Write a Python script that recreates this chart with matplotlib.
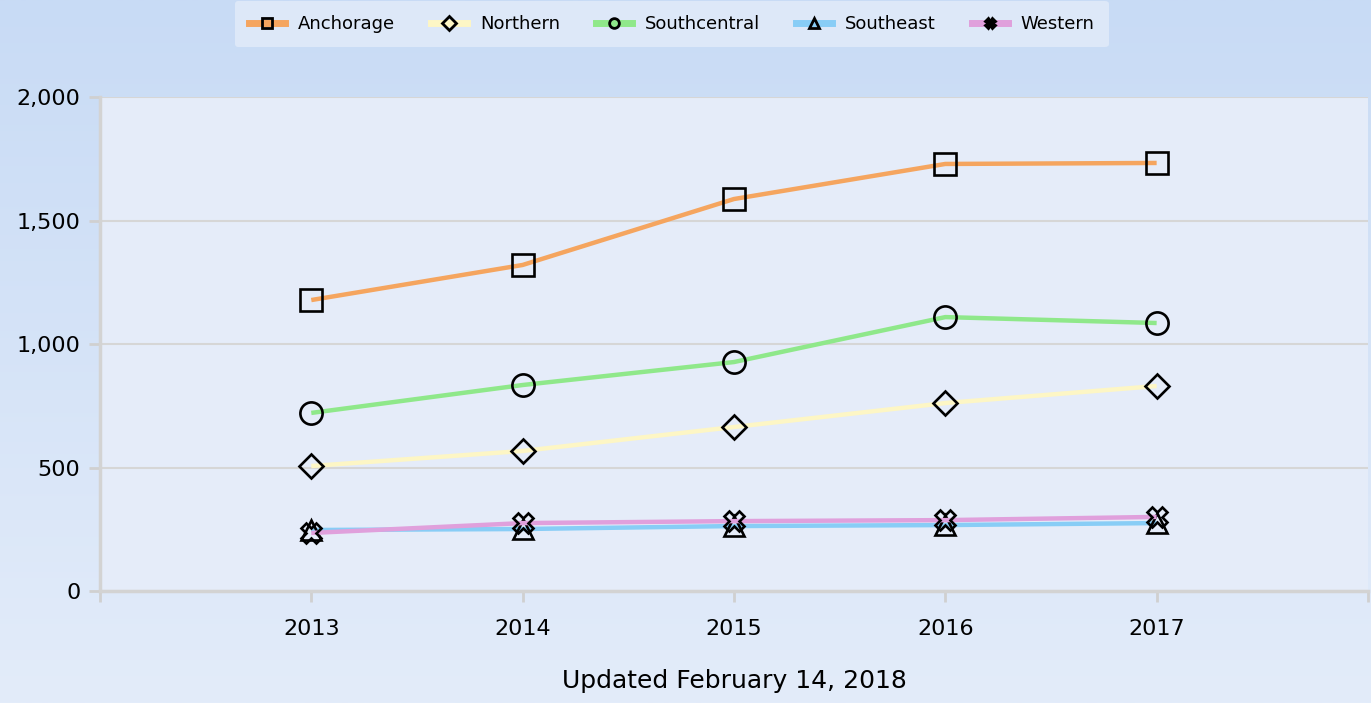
import numpy as np
import matplotlib.pyplot as plt
from matplotlib.lines import Line2D

years = [2013, 2014, 2015, 2016, 2017]
anchorage = [1178, 1320, 1587, 1729, 1733]
northern = [506, 567, 664, 761, 830]
southcentral = [721, 834, 927, 1109, 1085]
southeast = [247, 251, 263, 267, 275]
western = [235, 275, 283, 287, 300]

series = [
    ("Anchorage", anchorage, "#f5a55f", "s", 16),
    ("Northern", northern, "#fdf6c5", "D", 12),
    ("Southcentral", southcentral, "#8fe88a", "o", 16),
    ("Southeast", southeast, "#88cdf6", "^", 15),
    ("Western", western, "#e0a0dc", "X", 14),
]

plt.rcParams['font.family'] = ['DejaVu Sans']

fig = plt.figure(figsize=(13.71, 7.03), dpi=100)

# vertical gradient behind everything
bg = fig.add_axes([0, 0, 1, 1], zorder=-10)
grad = np.linspace(0, 1, 256).reshape(-1, 1)
top = np.array([0xc8, 0xdb, 0xf5]) / 255
bot = np.array([0xe3, 0xec, 0xfa]) / 255
img = top + (bot - top) * grad[:, :, None]
bg.imshow(img, aspect='auto', extent=[0, 1, 0, 1])
bg.axis('off')

ax = fig.add_axes([0.0729, 0.1593, 0.9249, 0.7027])
ax.set_facecolor("#e5ecf9")

for name, vals, col, mk, ms in series:
    ax.plot(years, vals, color=col, lw=3.2, marker=mk, ms=ms, mfc='none',
            mec='black', mew=1.9, label=name, solid_capstyle='butt')

ax.set_xlim(2012, 2018)
ax.set_ylim(0, 2000)
ax.set_xticks(range(2012, 2019))
ax.set_xticklabels([""] + [str(y) for y in years] + [""])
ax.set_yticks([0, 500, 1000, 1500, 2000])
ax.set_yticklabels(["0", "500", "1,000", "1,500", "2,000"])
ax.tick_params(axis='both', colors='#d0d0d0', width=2, length=8,
               labelcolor='black', labelsize=16)
ax.tick_params(axis='x', pad=12)
ax.tick_params(axis='y', pad=6)
ax.grid(axis='y', color='#d6d6d6', lw=1.5)
ax.set_axisbelow(True)
for side in ['top', 'right']:
    ax.spines[side].set_visible(False)
for side in ['left', 'bottom']:
    ax.spines[side].set_color('#d3d3d3')
    ax.spines[side].set_linewidth(2.5)

ax.set_xlabel("Updated February 14, 2018", fontsize=18, labelpad=22)

handles = []
for _, _, col, mk, _ in series:
    face = 'black' if mk == 'X' else 'none'
    handles.append(Line2D([], [], color=col, lw=5, marker=mk, ms=7, mfc=face,
                          mec='black', mew=2))
labels = [s[0] for s in series]
leg = fig.legend(handles, labels, loc='upper center', ncol=5,
                 bbox_to_anchor=(0.49, 1.012), fontsize=13, frameon=True,
                 handlelength=2.0, columnspacing=2.0, borderpad=0.8,
                 handletextpad=0.7)
leg.get_frame().set_facecolor('#dde8f8')
leg.get_frame().set_edgecolor('none')
leg.get_frame().set_alpha(1)

fig.savefig("out.png", dpi=100)
